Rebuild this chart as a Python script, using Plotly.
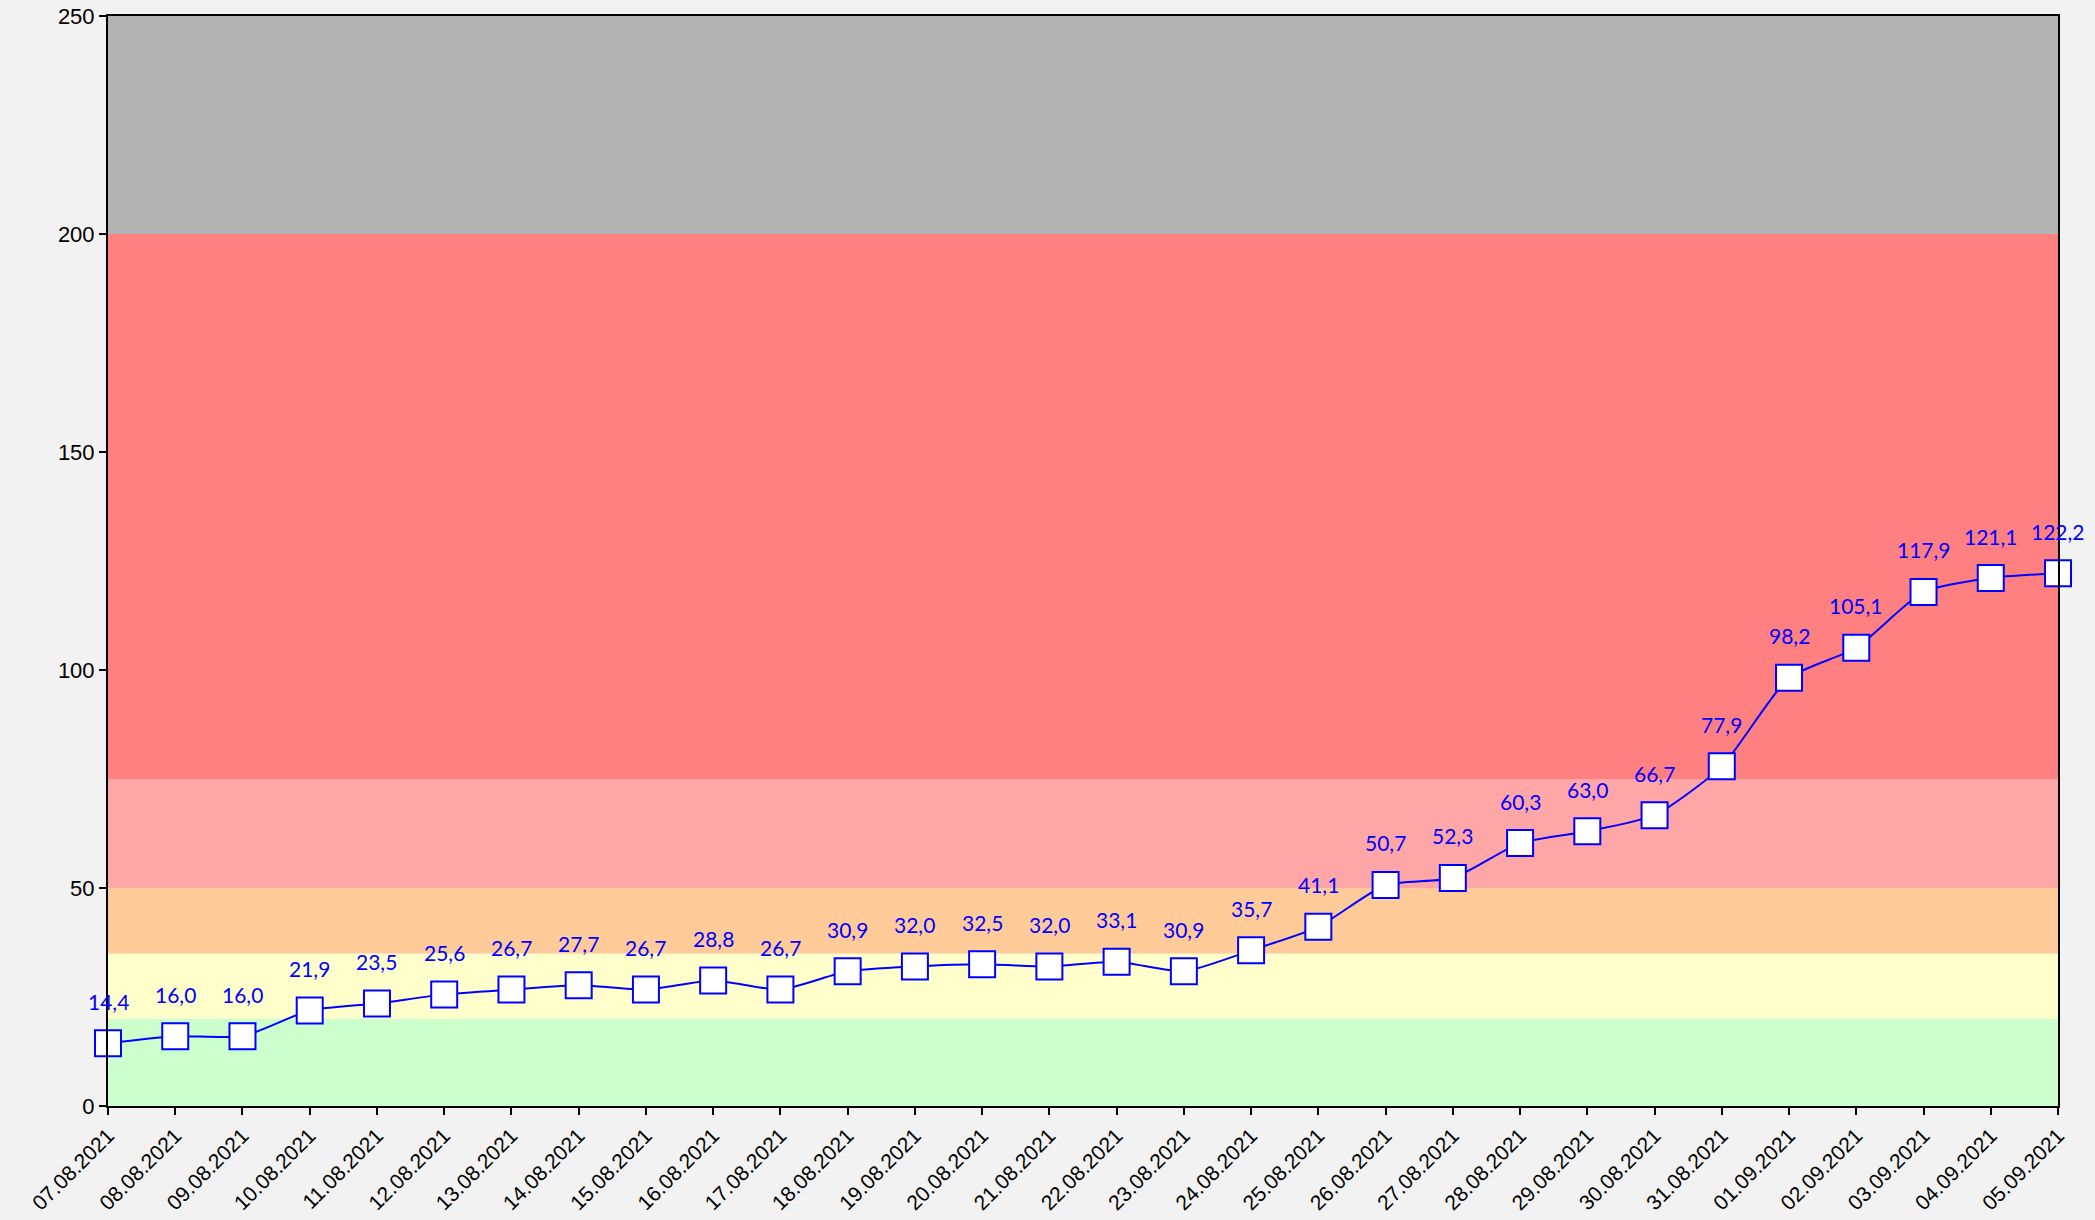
import plotly.graph_objects as go

dates = ["07.08.2021","08.08.2021","09.08.2021","10.08.2021","11.08.2021","12.08.2021",
         "13.08.2021","14.08.2021","15.08.2021","16.08.2021","17.08.2021","18.08.2021",
         "19.08.2021","20.08.2021","21.08.2021","22.08.2021","23.08.2021","24.08.2021",
         "25.08.2021","26.08.2021","27.08.2021","28.08.2021","29.08.2021","30.08.2021",
         "31.08.2021","01.09.2021","02.09.2021","03.09.2021","04.09.2021","05.09.2021"]
values = [14.4,16.0,16.0,21.9,23.5,25.6,26.7,27.7,26.7,28.8,26.7,30.9,32.0,32.5,32.0,
          33.1,30.9,35.7,41.1,50.7,52.3,60.3,63.0,66.7,77.9,98.2,105.1,117.9,121.1,122.2]

band_edges = [0, 20, 35, 50, 75, 200, 250]
band_colors = ["#CCFFCC", "#FFFFCC", "#FFCC99", "#FFA6A6", "#FF8080", "#B3B3B3"]
y_ticks = [0, 50, 100, 150, 200, 250]

labels = [f"{v:.1f}".replace(".", ",") for v in values]

fig = go.Figure()
fig.add_trace(go.Scatter(
    x=dates, y=values, mode="lines+markers",
    line=dict(color="#0000FF", width=2, shape="spline", smoothing=0.6),
    marker=dict(symbol="square", size=26, color="white", line=dict(color="#0000FF", width=2)),
    cliponaxis=False, hoverinfo="skip",
))

annotations = []
for d, v, t in zip(dates, values, labels):
    annotations.append(dict(x=d, y=v, xref="x", yref="y", text=t, showarrow=False,
                            yshift=42, yanchor="middle", xanchor="center",
                            font=dict(family="Lato", size=21, color="#0000FF")))

shapes = []
for i, c in enumerate(band_colors):
    shapes.append(dict(type="rect", xref="paper", yref="y", x0=0, x1=1,
                       y0=band_edges[i], y1=band_edges[i+1], fillcolor=c,
                       line=dict(width=0), layer="below"))

fig.update_layout(
    width=2095, height=1220,
    paper_bgcolor="#F2F2F2", plot_bgcolor="#F2F2F2",
    margin=dict(l=108, r=37, t=16, b=114),
    showlegend=False, shapes=shapes, annotations=annotations,
    font=dict(family="Liberation Sans", color="black"),
)
fig.update_xaxes(type="category", range=[0, len(dates)-1], tickangle=-45, automargin=False,
                 showgrid=False, showline=True, linecolor="black", linewidth=2,
                 mirror=True, ticks="outside", ticklen=7, tickwidth=2, tickcolor="black",
                 tickfont=dict(size=21, family="Liberation Sans"), zeroline=False)
fig.update_yaxes(range=[0, 250], tickvals=y_ticks, showgrid=False, showline=True, automargin=False,
                 linecolor="black", linewidth=2, mirror=True, ticks="outside",
                 ticklen=7, tickwidth=2, tickcolor="black",
                 tickfont=dict(size=22, family="Liberation Sans"), zeroline=False)

fig.write_html("out.html", config={"displayModeBar": False},
               post_script="document.body.style.margin='0';document.body.style.background='#F2F2F2';")
